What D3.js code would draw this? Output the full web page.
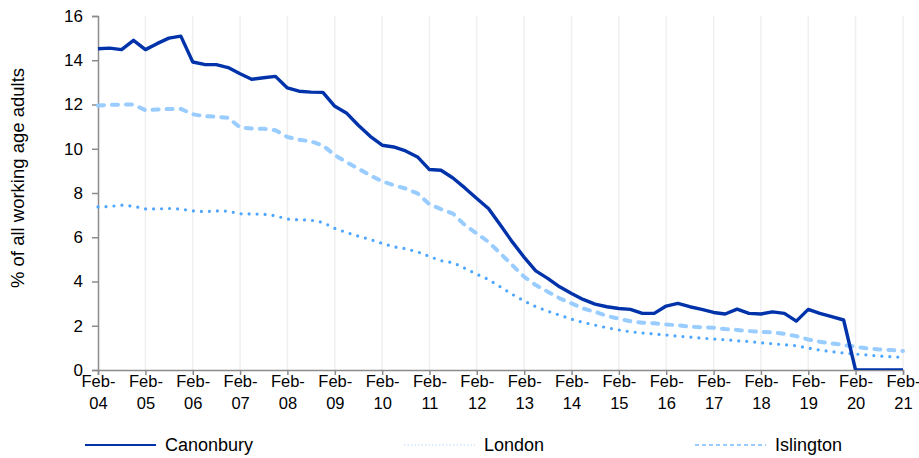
<!DOCTYPE html>
<html>
<head>
<meta charset="utf-8">
<script src="https://cdn.jsdelivr.net/npm/d3@7"></script>
<style>
  body { margin: 0; background: #fff; }
  text { font-family: "Liberation Sans", Arial, sans-serif; fill: #000; }
</style>
</head>
<body>
<div id="chart"></div>
<script>
// quarterly periods, Feb-04 .. Feb-21
var periods = d3.timeMonth.range(new Date(2004, 1, 1), new Date(2021, 2, 1), 3);
var tickYears = ["04","05","06","07","08","09","10","11","12","13","14","15","16","17","18","19","20","21"];
var yTicks = [0, 2, 4, 6, 8, 10, 12, 14, 16];

var canonbury = [14.52,14.55,14.48,14.90,14.48,14.75,15.00,15.09,13.92,13.81,13.80,13.67,13.39,13.14,13.21,13.27,
  12.75,12.60,12.56,12.55,11.92,11.62,11.06,10.56,10.16,10.08,9.90,9.63,9.06,9.03,8.68,8.23,
  7.75,7.30,6.55,5.79,5.09,4.48,4.14,3.76,3.46,3.19,2.98,2.86,2.78,2.74,2.56,2.56,
  2.89,3.01,2.86,2.74,2.60,2.53,2.75,2.56,2.53,2.63,2.56,2.21,2.74,2.56,2.41,2.26,0,0,0,0,0];
var london = [7.37,7.39,7.45,7.40,7.28,7.28,7.30,7.27,7.19,7.16,7.19,7.18,7.06,7.05,7.04,6.97,
  6.82,6.79,6.77,6.67,6.40,6.22,6.05,5.90,5.72,5.57,5.48,5.34,5.13,4.94,4.85,4.60,
  4.33,4.09,3.76,3.42,3.12,2.86,2.66,2.48,2.30,2.15,2.03,1.91,1.81,1.73,1.67,1.63,
  1.58,1.53,1.49,1.44,1.40,1.37,1.32,1.29,1.23,1.19,1.14,1.10,0.99,0.90,0.83,0.77,0.72,0.68,0.63,0.60,0.57];
var islington = [11.95,11.98,12.00,12.00,11.74,11.77,11.80,11.80,11.56,11.47,11.45,11.40,10.96,10.92,10.90,10.84,
  10.53,10.41,10.33,10.15,9.71,9.40,9.10,8.80,8.53,8.35,8.20,7.98,7.49,7.27,7.07,6.55,
  6.17,5.79,5.27,4.74,4.21,3.84,3.54,3.24,3.01,2.78,2.63,2.44,2.32,2.20,2.14,2.11,
  2.06,2.02,1.96,1.93,1.91,1.85,1.81,1.76,1.72,1.70,1.63,1.53,1.38,1.28,1.20,1.13,1.05,0.98,0.93,0.90,0.86];

var series = [
  { name: "Canonbury", values: canonbury, color: "#0033aa", width: 3.4, dash: null, cap: "butt" },
  { name: "London", values: london, color: "#4da6ff", width: 3.2, dash: "0,8", cap: "round" },
  { name: "Islington", values: islington, color: "#99ccff", width: 4, dash: "6,8", cap: "round" }
];
var legendSeries = [
  { name: "Canonbury", color: "#0033aa", width: 2, dash: null, x: 85 },
  { name: "London", color: "#cfe6ff", width: 1.5, dash: "1.5,2", x: 404 },
  { name: "Islington", color: "#99ccff", width: 2, dash: "4,3", x: 695 }
];

var margin = { top: 16, right: 16, bottom: 88, left: 98 },
    width = 919 - margin.left - margin.right,
    height = 458 - margin.top - margin.bottom;

var svg = d3.select("#chart")
    .append("svg")
    .attr("width", 919)
    .attr("height", 458)
    .append("g")
    .attr("transform", "translate(" + margin.left + "," + margin.top + ")");

var x = d3.scaleTime()
    .domain([periods[0], periods[periods.length - 1]])
    .range([0, width]);
var y = d3.scaleLinear()
    .domain([0, 16])
    .range([height, 0]);

var yearDates = tickYears.map(function (yy) { return new Date(2000 + (+yy), 1, 1); });

// vertical gridlines
svg.append("g")
    .selectAll("line")
    .data(yearDates.slice(1))
    .enter()
    .append("line")
    .attr("x1", function (d) { return x(d); })
    .attr("x2", function (d) { return x(d); })
    .attr("y1", 0)
    .attr("y2", height)
    .attr("stroke", "#efefef")
    .attr("stroke-width", 1.5);

// Y axis
var yAxis = svg.append("g")
    .call(d3.axisLeft(y).tickValues(yTicks).tickSize(6).tickPadding(9));
yAxis.select(".domain").attr("stroke", "#8c8c8c").attr("stroke-width", 1.5);
yAxis.selectAll(".tick line").attr("stroke", "#8c8c8c").attr("stroke-width", 1.5);
yAxis.selectAll(".tick text").style("font-size", "17px").attr("font-family", null);

// X axis
var xAxis = svg.append("g")
    .attr("transform", "translate(0," + height + ")")
    .call(d3.axisBottom(x).tickValues(yearDates).tickSize(5).tickFormat(""));
xAxis.select(".domain").attr("stroke", "#8c8c8c").attr("stroke-width", 1.5);
xAxis.selectAll(".tick line").attr("stroke", "#8c8c8c").attr("stroke-width", 1.5);
xAxis.selectAll(".tick").each(function (d, i) {
    var t = d3.select(this).append("text")
        .attr("text-anchor", "middle")
        .style("font-size", "16.5px");
    t.append("tspan").attr("x", 0).attr("y", 17).text("Feb-");
    t.append("tspan").attr("x", 0).attr("y", 39).text(tickYears[i]);
});

svg.append("text")
    .attr("transform", "rotate(-90)")
    .attr("x", -162)
    .attr("y", -74)
    .style("text-anchor", "middle")
    .style("font-size", "18.5px")
    .text("% of all working age adults");

// lines
svg.append("clipPath").attr("id", "plotclip")
    .append("rect").attr("x", -5).attr("y", -5).attr("width", width + 10).attr("height", height + 5);

var line = d3.line()
    .x(function (d, i) { return x(periods[i]); })
    .y(function (d) { return y(d); });

var drawOrder = [series[1], series[2], series[0]];
svg.append("g")
    .attr("clip-path", "url(#plotclip)")
    .selectAll("path")
    .data(drawOrder)
    .enter()
    .append("path")
    .attr("d", function (d) { return line(d.values); })
    .attr("fill", "none")
    .attr("stroke", function (d) { return d.color; })
    .attr("stroke-width", function (d) { return d.width; })
    .attr("stroke-dasharray", function (d) { return d.dash; })
    .attr("stroke-linecap", function (d) { return d.cap; })
    .attr("stroke-linejoin", "round");

// legend
var legend = d3.select("svg").append("g")
    .selectAll("g")
    .data(legendSeries)
    .enter()
    .append("g")
    .attr("transform", function (d) { return "translate(" + d.x + ",445)"; });
legend.append("line")
    .attr("x1", 0).attr("x2", 71)
    .attr("stroke", function (d) { return d.color; })
    .attr("stroke-width", function (d) { return d.width; })
    .attr("stroke-dasharray", function (d) { return d.dash; });
legend.append("text")
    .attr("x", 80)
    .attr("dy", "0.35em")
    .style("font-size", "18px")
    .text(function (d) { return d.name; });
</script>
</body>
</html>
